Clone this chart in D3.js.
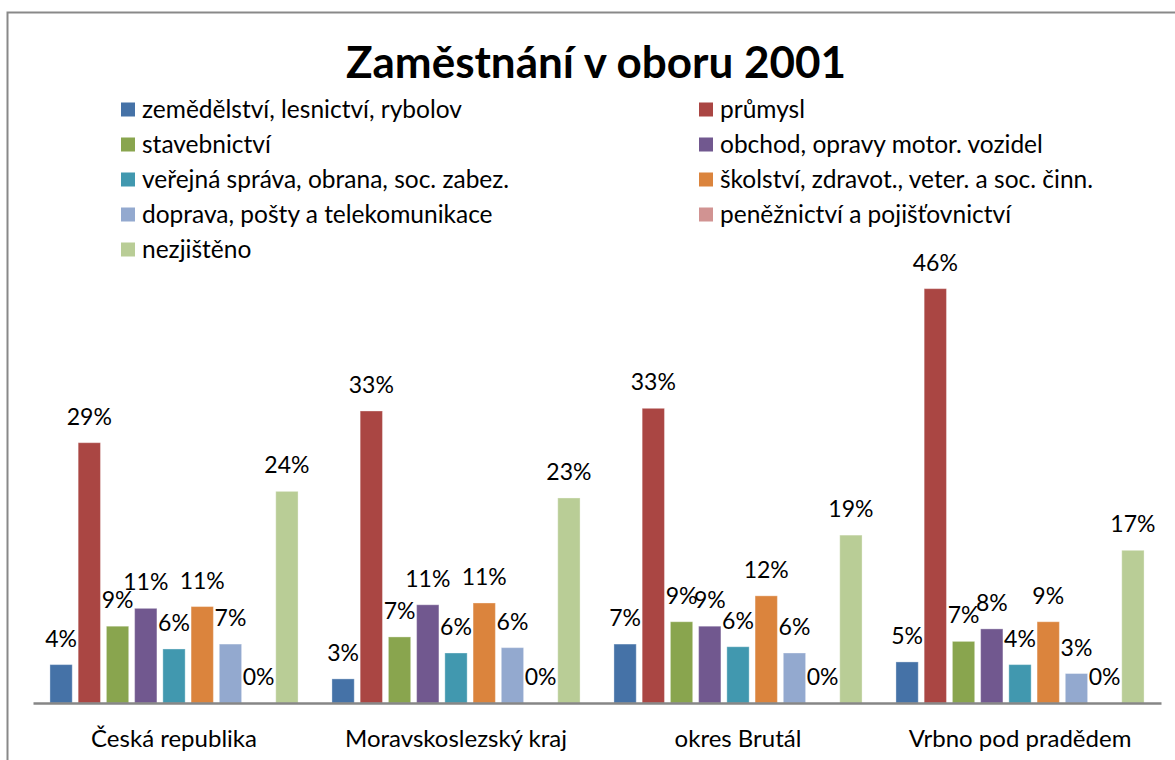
<!DOCTYPE html>
<html>
<head>
<meta charset="utf-8">
<script src="https://cdn.jsdelivr.net/npm/d3@7"></script>
<style>
  body { margin: 0; background: #fff; }
  svg { display: block; font-family: Lato, "Open Sans", sans-serif; }
</style>
</head>
<body>
<div id="chart"></div>
<script>
const width = 1175;
const height = 760;

const title = 'Zaměstnání v oboru 2001';

const categories = ['Česká republika', 'Moravskoslezský kraj', 'okres Brutál', 'Vrbno pod pradědem'];

const seriesNames = [
    'zemědělství, lesnictví, rybolov',
    'průmysl',
    'stavebnictví',
    'obchod, opravy motor. vozidel',
    'veřejná správa, obrana, soc. zabez.',
    'školství, zdravot., veter. a soc. činn.',
    'doprava, pošty a telekomunikace',
    'peněžnictví a pojišťovnictví',
    'nezjištěno'
];

// values in %, one per category
const zemedelstvi = [4.3, 2.7, 6.6, 4.6];
const prumysl     = [29.15, 32.7, 33.0, 46.4];
const stavebnictvi = [8.6, 7.4, 9.1, 6.9];
const obchod      = [10.6, 11.0, 8.6, 8.3];
const sprava      = [6.05, 5.6, 6.3, 4.3];
const skolstvi    = [10.8, 11.2, 12.0, 9.1];
const doprava     = [6.6, 6.2, 5.6, 3.3];
const peneznictvi = [0, 0, 0, 0];
const nezjisteno  = [23.7, 22.96, 18.8, 17.1];

const seriesValues = [zemedelstvi, prumysl, stavebnictvi, obchod, sprava, skolstvi, doprava, peneznictvi, nezjisteno];

const colors = ['#4572A7', '#AA4643', '#89A54E', '#71588F', '#4198AF', '#DB843D', '#93A9CF', '#D19392', '#B9CD96'];

const plot = { left: 33, right: 1161, top: 256.5, bottom: 703 };

const svg = d3.select('#chart')
    .append('svg')
    .attr('width', width)
    .attr('height', height);

// chart frame
svg.append('rect')
    .attr('x', 7.5)
    .attr('y', 12.5)
    .attr('width', 1200)
    .attr('height', 800)
    .attr('fill', '#fff')
    .attr('stroke', '#898989')
    .attr('stroke-width', 2);

svg.append('text')
    .text(title)
    .attr('x', 596)
    .attr('y', 78)
    .attr('text-anchor', 'middle')
    .attr('font-weight', 'bold')
    .attr('font-size', '44px')
    .attr('fill', '#000');

// legend, two columns
const legend = svg.append('g').attr('class', 'legend');
const legendItems = legend.selectAll('g')
    .data(seriesNames)
    .join('g')
    .attr('transform', (d, i) => `translate(${i % 2 === 0 ? 121 : 699}, ${109.5 + Math.floor(i / 2) * 35})`);

legendItems.append('rect')
    .attr('x', 0)
    .attr('y', -7)
    .attr('width', 14)
    .attr('height', 14)
    .attr('fill', (d, i) => colors[i]);

legendItems.append('text')
    .text(d => d)
    .attr('x', 21)
    .attr('y', 8)
    .attr('font-size', '24.5px')
    .attr('fill', '#000');

// scales
const x0 = d3.scaleBand()
    .domain(categories)
    .range([plot.left, plot.right])
    .padding(0);

const x1 = d3.scaleBand()
    .domain(d3.range(seriesNames.length))
    .range([0, x0.bandwidth()])
    .paddingInner(0.21)
    .paddingOuter(0.6);

const y = d3.scaleLinear()
    .domain([0, 50])
    .range([plot.bottom, plot.top]);

const data = [];
categories.forEach((c, ci) => {
    seriesValues.forEach((vals, si) => {
        data.push({ cat: c, s: si, v: vals[ci] });
    });
});

const bars = svg.append('g');
bars.selectAll('rect')
    .data(data)
    .join('rect')
    .attr('x', d => x0(d.cat) + x1(d.s))
    .attr('y', d => y(d.v))
    .attr('width', x1.bandwidth())
    .attr('height', d => y(0) - y(d.v))
    .attr('fill', d => colors[d.s])
    .attr('stroke', '#fff')
    .attr('stroke-opacity', 0.35)
    .attr('stroke-width', 1);

svg.append('g')
    .selectAll('text')
    .data(data)
    .join('text')
    .attr('x', d => x0(d.cat) + x1(d.s) + x1.bandwidth() / 2)
    .attr('y', d => y(d.v) - 18)
    .attr('text-anchor', 'middle')
    .attr('font-size', '23px')
    .attr('fill', '#000')
    .text(d => Math.round(d.v) + '%');

const bottomAxis = d3.axisBottom(x0)
    .tickSizeInner(0)
    .tickSizeOuter(0)
    .tickPadding(27);

const axisG = svg.append('g')
    .attr('transform', `translate(0, ${plot.bottom})`)
    .call(bottomAxis);

axisG.select('.domain')
    .attr('stroke', '#868686')
    .attr('stroke-width', 2.5);

axisG.selectAll('text')
    .attr('font-size', '24px')
    .attr('font-family', 'Lato, sans-serif')
    .attr('fill', '#000');
</script>
</body>
</html>
